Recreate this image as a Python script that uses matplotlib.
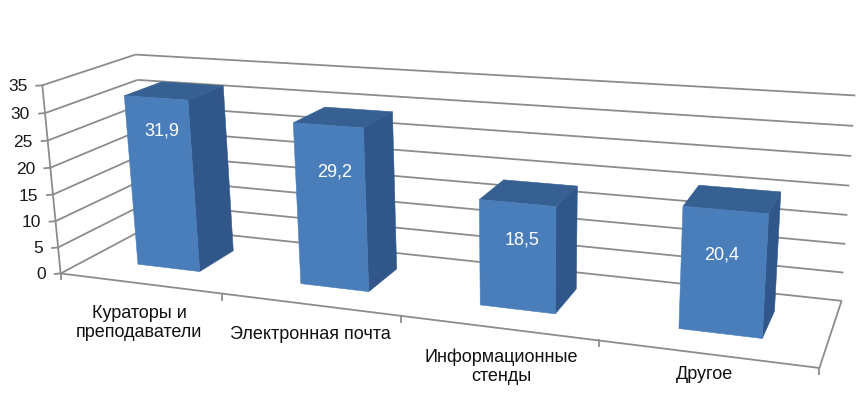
import numpy as np
import matplotlib
matplotlib.use("Agg")
import matplotlib.pyplot as plt
from matplotlib.patches import Polygon

categories = ["Кураторы и\nпреподаватели", "Электронная почта", "Информационные\nстенды", "Другое"]
values = [31.9, 29.2, 18.5, 20.4]
value_labels = ["31,9", "29,2", "18,5", "20,4"]
y_ticks = [0, 5, 10, 15, 20, 25, 30, 35]

W, H = 861, 410
plt.rcParams["font.family"] = ["Liberation Sans", "DejaVu Sans"]

# perspective camera fitted to the box corners (x category, y value, z depth) -> pixel
anchors = [
    (0, 0, 0, 58, 275), (0, 35, 0, 44, 83), (4, 0, 0, 815, 365), (0, 15, 0, 51, 194),
    (0, 0, 1, 152, 229), (0, 35, 1, 135, 54), (4, 0, 1, 843, 298), (4, 35, 1, 856, 100),
    (1, 0, 0, 224, 298), (2, 0, 0, 405, 320), (3, 0, 0, 600, 343),
    (0, 30, 1, 140, 81), (2, 35, 1, 456, 75), (2, 0, 1, 456, 260),
    (4, 30, 1, 854, 129), (4, 15, 1, 849, 216), (4, 5, 1, 846, 272),
]
A, b = [], []
for x, y, z, u, v in anchors:
    A.append([x, y, z, 1, 0, 0, 0, 0, -u * x, -u * y, -u * z])
    A.append([0, 0, 0, 0, x, y, z, 1, -v * x, -v * y, -v * z])
    b += [u, v]
p = np.linalg.lstsq(np.array(A, float), np.array(b, float), rcond=None)[0]
P = np.array([p[0:4], p[4:8], [p[8], p[9], p[10], 1.0]])


def proj(x, y, z):
    q = P @ np.array([x, y, z, 1.0])
    return q[0] / q[2], q[1] / q[2]


fig = plt.figure(figsize=(W / 100, H / 100), dpi=100)
ax = fig.add_axes([0, 0, 1, 1])
ax.set_xlim(0, W)
ax.set_ylim(H, 0)
ax.axis("off")

GRID = "#8c8c8c"
LW = 1.3


def line(a, b):
    pa, pb = proj(*a), proj(*b)
    ax.plot([pa[0], pb[0]], [pa[1], pb[1]], color=GRID, lw=LW, solid_capstyle="butt", zorder=1)


n = len(categories)
for t in y_ticks:
    line((0, t, 0), (0, t, 1))
    line((0, t, 1), (n, t, 1))
    u, v = proj(0, t, 0)
    ax.plot([u - 6, u], [v + 0.5, v], color=GRID, lw=LW, zorder=1)
    ax.text(u - 15, v + 0.5, str(t), ha="right", va="center", fontsize=12.5, color="#1a1a1a")

line((0, 0, 0), (0, 35, 0))
line((0, 0, 0), (n, 0, 0))
line((n, 0, 0), (n, 0, 1))
for i in range(n + 1):
    u, v = proj(i, 0, 0)
    ax.plot([u, u], [v, v + 6], color=GRID, lw=LW, zorder=1)

BW, Z0, Z1, XC = 0.39, 0.30, 0.72, 0.515
FRONT, SIDE, TOP = "#4a7ebb", "#31578a", "#376092"
label_pos = [(162, 131), (335, 172), (522, 240), (722, 255)]
for i, val in enumerate(values):
    x0, x1 = i + XC - BW / 2, i + XC + BW / 2
    faces = [
        ([(x1, 0, Z0), (x1, val, Z0), (x1, val, Z1), (x1, 0, Z1)], SIDE),
        ([(x0, val, Z0), (x1, val, Z0), (x1, val, Z1), (x0, val, Z1)], TOP),
        ([(x0, 0, Z0), (x1, 0, Z0), (x1, val, Z0), (x0, val, Z0)], FRONT),
    ]
    for pts, col in faces:
        ax.add_patch(Polygon([proj(*q) for q in pts], closed=True, fc=col, ec=col, lw=0.4, zorder=3))
    ax.text(*label_pos[i], value_labels[i], ha="center", va="center", fontsize=13, color="white", zorder=4)

cat_pos = [(139, 323), (310, 335), (501, 367), (705, 375)]
for (u, v), c in zip(cat_pos, categories):
    ax.text(u, v, c, ha="center", va="center", fontsize=13, color="#111111", linespacing=1.15)

fig.savefig("out.png", dpi=100)
